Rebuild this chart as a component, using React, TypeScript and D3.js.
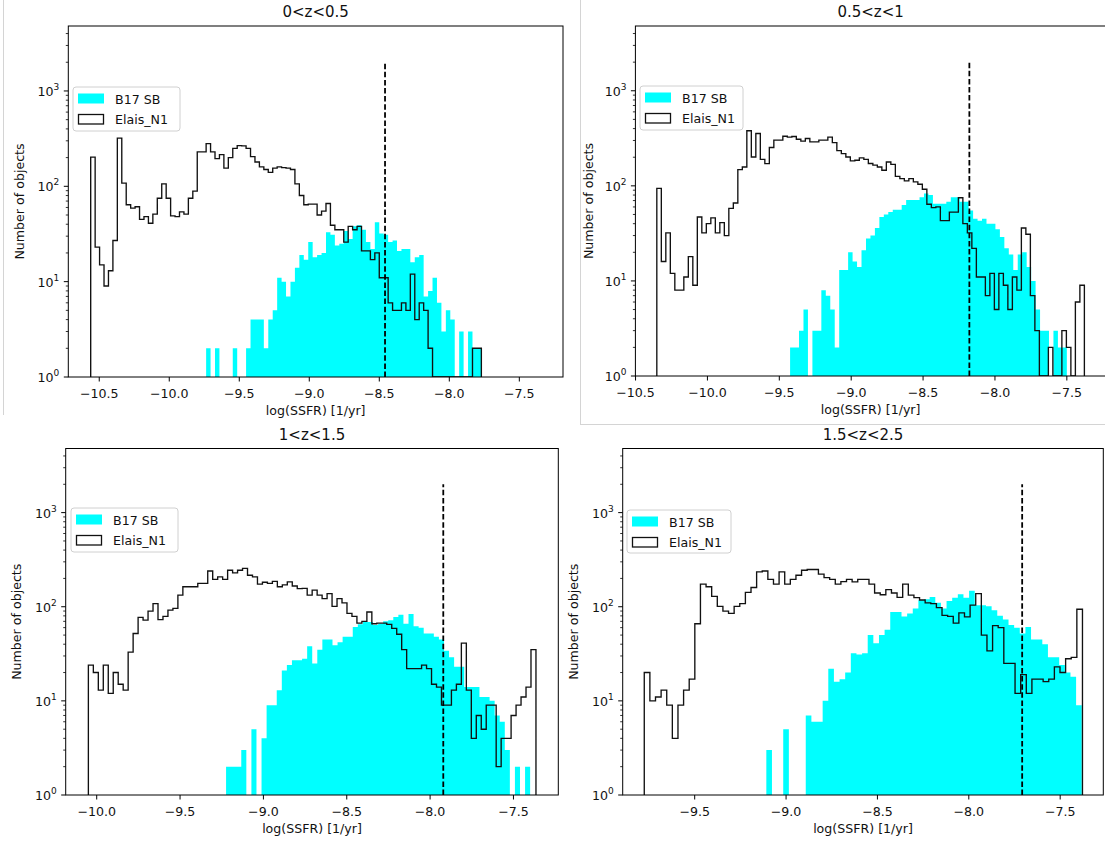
import React from "react";
import * as d3 from "d3";

// ---------------- data ----------------
const panelTitles = ["0<z<0.5", "0.5<z<1", "1<z<1.5", "1.5<z<2.5"];
const seriesNames = ["B17 SB", "Elais_N1"];
const xTickValues = [
  [-10.5, -10.0, -9.5, -9.0, -8.5, -8.0, -7.5],
  [-10.5, -10.0, -9.5, -9.0, -8.5, -8.0, -7.5],
  [-10.0, -9.5, -9.0, -8.5, -8.0, -7.5],
  [-9.5, -9.0, -8.5, -8.0, -7.5],
];
const yTickExponents = [0, 1, 2, 3];
const xLimits = [
  [-10.721, -7.188],
  [-10.501, -7.229],
  [-10.186, -7.231],
  [-9.894, -7.264],
];
const yLimits = [1, 4800];

// histogram ranges (log SSFR) — bins are uniform within each range
const elaisRange = [
  [-10.561, -7.771],
  [-10.352, -7.378],
  [-10.05, -7.365],
  [-9.776, -7.378],
];
const sbRange = [
  [-10.561, -7.771],
  [-9.425, -7.5],
  [-9.224, -7.4],
  [-9.108, -7.382],
];
const cutValues = [-8.459, -8.178, -7.921, -7.708];
const cutTop = 2000;

const elaisZ1 = [
  202, 23, 15, 9, 13, 27, 320, 108, 64, 59,
  61, 45, 48, 41, 51, 75, 106, 75, 49, 48,
  54, 51, 75, 89, 230, 230, 280, 230, 195, 215,
  155, 200, 250, 267, 265, 250, 205, 180, 160, 150,
  140, 155, 160, 157, 155, 150, 106, 80, 64, 65,
  65, 50, 55, 66, 39, 35, 35, 26, 38, 35,
  38, 21, 21, 17, 20, 11, 11, 6, 5, 5,
  6, 5, 12, 4, 6, 5, 2, 0, 0, 0,
  0, 0, 0, 0, 0, 0, 2, 2,
];
const sbZ1 = [
  0, 0, 0, 0, 0, 0, 0, 0, 0, 0,
  0, 0, 0, 0, 0, 0, 0, 0, 0, 0,
  0, 0, 0, 0, 0, 0,
  2, 0, 2, 0, 0, 0, 2, 0, 0, 2,
  4, 4, 4, 2, 4, 5, 11, 10, 7, 10,
  14, 19, 17, 26, 18, 19, 20, 33, 31, 24,
  25, 34, 28, 38, 39, 35, 26, 22, 42, 32,
  31, 26, 27, 21, 22, 22, 16, 18, 19, 7,
  8, 11, 6, 3, 5, 4, 0, 3, 0, 3,
  2, 2,
];
const elaisZ2 = [
  94, 16, 32, 12, 8, 8, 11, 18, 9, 47,
  32, 40, 46, 32, 41, 30, 58, 66, 148, 158,
  380, 201, 355, 190, 171, 253, 303, 303, 332, 325,
  330, 309, 295, 315, 290, 290, 303, 303, 325, 285,
  235, 218, 201, 183, 186, 197, 190, 172, 165, 158,
  146, 178, 168, 126, 119, 113, 119, 110, 104, 92,
  64, 59, 60, 43, 43, 53, 53, 75, 40, 32,
  22, 11, 11, 7, 12, 5, 12, 9, 5, 11,
  8, 36, 31, 7, 3, 0, 0, 2, 0, 0,
  3, 2, 0, 6, 9,
];
const sbZ2 = [
  2, 2, 3, 5, 0, 3, 3, 8, 7, 5,
  2, 13, 13, 20, 16, 14, 21, 28, 30, 36,
  47, 50, 53, 56, 56, 63, 71, 71, 71, 76,
  83, 80, 65, 65, 65, 68, 76, 76, 68, 68,
  55, 45, 43, 45, 40, 40, 35, 29, 22, 19,
  13, 19, 20, 14, 10, 5, 3, 3, 0, 3,
  2, 2,
];
const elaisZ3 = [
  24, 20, 13, 24, 12, 20, 15, 13, 33, 52,
  77, 72, 90, 108, 73, 79, 92, 96, 133, 163,
  163, 163, 177, 177, 240, 195, 208, 195, 244, 229,
  244, 256, 216, 208, 174, 182, 177, 186, 163, 171,
  184, 166, 156, 157, 133, 150, 133, 122, 138, 101,
  122, 110, 85, 79, 67, 70, 88, 66, 67, 67,
  65, 59, 51, 35, 22, 22, 22, 24, 22, 15,
  14, 9, 9, 13, 15, 41, 13, 4, 7, 5,
  9, 9, 2, 4, 4, 7, 9, 11, 14, 35,
];
const sbZ3 = [
  2, 2, 2, 3, 0, 5, 0, 4, 9, 9,
  13, 21, 24, 27, 27, 28, 38, 25, 35, 45,
  45, 39, 42, 48, 48, 61, 65, 69, 69, 64,
  66, 70, 72, 78, 82, 66, 84, 62, 60, 52,
  52, 48, 45, 34, 29, 23, 23, 14, 14, 14,
  11, 11, 10, 7, 6, 3, 0, 2, 0, 2,
];
const elaisZ4 = [
  20, 10, 11, 13, 9, 4, 9, 13, 17, 66,
  174, 163, 129, 101, 90, 85, 101, 108, 142, 160,
  235, 240, 195, 174, 235, 174, 195, 216, 244, 249,
  249, 222, 204, 195, 174, 185, 195, 184, 195, 195,
  174, 140, 134, 152, 140, 126, 174, 133, 125, 118,
  110, 108, 98, 81, 79, 67, 86, 78, 104, 138,
  50, 34, 63, 60, 25, 25, 12, 19, 12, 17,
  17, 16, 17, 23, 20, 28, 29, 94,
];
const sbZ4 = [
  3, 0, 0, 5, 0, 0, 0, 7, 6, 6,
  10, 22, 16, 17, 20, 32, 31, 32, 50, 41,
  50, 57, 88, 88, 79, 85, 96, 117, 120, 127,
  110, 96, 115, 125, 136, 125, 148, 104, 104, 101,
  92, 80, 73, 64, 60, 52, 61, 45, 45, 40,
  29, 29, 24, 20, 18, 9,
];

const elaisCounts = [elaisZ1, elaisZ2, elaisZ3, elaisZ4];
const sbCounts = [sbZ1, sbZ2, sbZ3, sbZ4];

// ---------------- layout ----------------
const layout = [
  { left: 68.3, top: 26, right: 563, bottom: 377, lg: { x: 73, y: 87, w: 107, h: 44 }, ylabX: 19.5 },
  { left: 635.4, top: 26, right: 1105.8, bottom: 376, lg: { x: 640, y: 86, w: 103, h: 44 }, ylabX: 588 },
  { left: 65.7, top: 448.5, right: 558.3, bottom: 795, lg: { x: 71, y: 508, w: 107, h: 44 }, ylabX: 16.5 },
  { left: 622.7, top: 448.5, right: 1103.3, bottom: 795, lg: { x: 627, y: 510, w: 104, h: 43 }, ylabX: 573 },
];

const FONT = "DejaVu Sans, Verdana, sans-serif";
const CYAN = "#00ffff";

function fmt(v: number) {
  return (v < 0 ? "\u2212" : "") + Math.abs(v).toFixed(1);
}

function Panel({ idx }: { idx: number }) {
  const L = layout[idx];
  const x = d3.scaleLinear().domain(xLimits[idx]).range([L.left, L.right]);
  const y = d3.scaleLog().domain(yLimits).range([L.bottom, L.top]);
  const yb = L.bottom;
  const yv = (c: number) => (c > 0 ? y(c) : yb);

  // filled histogram as one path (runs of non-empty bins)
  const sb = sbCounts[idx];
  const [s0, s1] = sbRange[idx];
  const sw = (s1 - s0) / sb.length;
  const fp = d3.path();
  let open = false;
  sb.forEach((c, i) => {
    const xa = x(s0 + i * sw);
    const xb = x(s0 + (i + 1) * sw);
    if (c > 0) {
      if (!open) {
        fp.moveTo(xa, yb);
        open = true;
      }
      fp.lineTo(xa, y(c));
      fp.lineTo(xb, y(c));
    } else if (open) {
      fp.lineTo(xa, yb);
      fp.closePath();
      open = false;
    }
  });
  if (open) {
    fp.lineTo(x(s1), yb);
    fp.closePath();
  }

  const el = elaisCounts[idx];
  const [e0, e1] = elaisRange[idx];
  const ew = (e1 - e0) / el.length;
  const pts: [number, number][] = [[x(e0), yb]];
  el.forEach((c, i) => {
    pts.push([x(e0 + i * ew), yv(c)]);
    pts.push([x(e0 + (i + 1) * ew), yv(c)]);
  });
  pts.push([x(e1), yb]);
  const stepPath = d3.line()(pts) || "";

  const minor: number[] = [];
  for (let d = 0; d < 4; d++) {
    for (let m = 2; m <= 9; m++) {
      const v = m * Math.pow(10, d);
      if (v <= yLimits[1]) minor.push(v);
    }
  }
  const clipId = `clip${idx}`;
  const cx = (L.left + L.right) / 2;
  const cy = (L.top + L.bottom) / 2;
  const lg = L.lg;

  return (
    <g>
      <defs>
        <clipPath id={clipId}>
          <rect x={L.left} y={L.top} width={L.right - L.left} height={L.bottom - L.top} />
        </clipPath>
      </defs>
      <g clipPath={`url(#${clipId})`}>
        <path d={fp.toString()} fill={CYAN} stroke="none" />
        <path d={stepPath} fill="none" stroke="#111" strokeWidth={1.35} strokeLinejoin="miter" />
        <line
          x1={x(cutValues[idx])}
          x2={x(cutValues[idx])}
          y1={yb}
          y2={y(cutTop)}
          stroke="#000"
          strokeWidth={1.8}
          strokeDasharray="5.5,2.6"
        />
      </g>
      {/* spines */}
      <rect x={L.left} y={L.top} width={L.right - L.left} height={L.bottom - L.top} fill="none" stroke="#000" strokeWidth={1} />
      {/* x ticks */}
      {xTickValues[idx].map((v) => (
        <g key={v}>
          <line x1={x(v)} x2={x(v)} y1={yb} y2={yb + 4.5} stroke="#000" strokeWidth={1} />
          <text x={x(v)} y={yb + 20.5} textAnchor="middle" fontSize={12.6} fontFamily={FONT} fill="#111">
            {fmt(v)}
          </text>
        </g>
      ))}
      {/* y ticks */}
      {yTickExponents.map((e) => {
        const yy = y(Math.pow(10, e));
        return (
          <g key={e}>
            <line x1={L.left - 4.5} x2={L.left} y1={yy} y2={yy} stroke="#000" strokeWidth={1} />
            <text x={L.left - 9} y={yy + 5} textAnchor="end" fontSize={12.6} fontFamily={FONT} fill="#111">
              10
              <tspan dy={-6} fontSize={9}>{String(e)}</tspan>
            </text>
          </g>
        );
      })}
      {minor.map((v) => (
        <line key={v} x1={L.left - 2.5} x2={L.left} y1={y(v)} y2={y(v)} stroke="#000" strokeWidth={0.8} />
      ))}
      {/* title and labels */}
      <text x={cx} y={L.top - 9} textAnchor="middle" fontSize={15} fontFamily={FONT} fill="#111">
        {panelTitles[idx]}
      </text>
      <text x={cx} y={yb + 38} textAnchor="middle" fontSize={12.6} fontFamily={FONT} fill="#111">
        log(SSFR) [1/yr]
      </text>
      <text
        transform={`translate(${L.ylabX},${cy}) rotate(-90)`}
        textAnchor="middle"
        dominantBaseline="central"
        fontSize={12.6}
        fontFamily={FONT}
        fill="#111"
      >
        Number of objects
      </text>
      {/* legend */}
      <rect x={lg.x} y={lg.y} width={lg.w} height={lg.h} rx={3} fill="#fff" fillOpacity={0.85} stroke="#d0d0d0" strokeWidth={1} />
      <rect x={lg.x + 5} y={lg.y + 6.5} width={26} height={10} fill={CYAN} />
      <text x={lg.x + 42} y={lg.y + 16.5} fontSize={12.6} fontFamily={FONT} fill="#111">
        {seriesNames[0]}
      </text>
      <rect x={lg.x + 5.5} y={lg.y + 27.5} width={25} height={9.5} fill="none" stroke="#111" strokeWidth={1.3} />
      <text x={lg.x + 42} y={lg.y + 37} fontSize={12.6} fontFamily={FONT} fill="#111">
        {seriesNames[1]}
      </text>
    </g>
  );
}

export default function App() {
  return (
    <div style={{ position: "absolute", left: 0, top: 0, width: 1105, height: 841, background: "#fff" }}>
      <svg width={1105} height={841} viewBox="0 0 1105 841" style={{ display: "block" }}>
        <rect x={0} y={0} width={1105} height={841} fill="#fff" />
        {/* screenshot frame lines */}
        <line x1={3.5} x2={3.5} y1={0} y2={415} stroke="#d4d4d4" strokeWidth={1} />
        <line x1={580.5} x2={580.5} y1={0} y2={425} stroke="#d4d4d4" strokeWidth={1} />
        <line x1={580} x2={1105} y1={424.5} y2={424.5} stroke="#d4d4d4" strokeWidth={1} />
        {[0, 1, 2, 3].map((i) => (
          <Panel key={i} idx={i} />
        ))}
      </svg>
    </div>
  );
}
